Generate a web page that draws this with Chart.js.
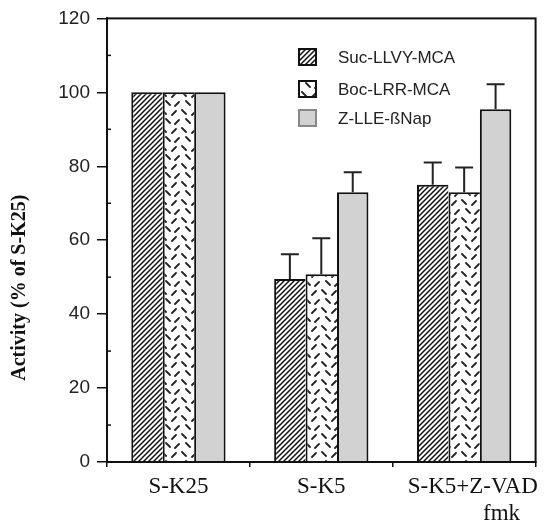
<!DOCTYPE html>
<html>
<head>
<meta charset="utf-8">
<script src="https://cdn.jsdelivr.net/npm/chart.js@4"></script>
<style>
  body { margin: 0; background: #fff; }
</style>
</head>
<body>
<canvas id="chart" width="545" height="527"></canvas>
<script>
const categories = [["S-K25", "     "], ["S-K5", "   "], ["   S-K5+Z-VAD", "             fmk"]];
const seriesNames = ["Suc-LLVY-MCA", "Boc-LRR-MCA", "Z-LLE-ßNap"];
const sucValues = [100, 49.5, 75];
const sucErrors = [0, 6.7, 6];
const bocValues = [100, 50.8, 73];
const bocErrors = [0, 9.7, 6.7];
const zlleValues = [100, 73, 95.4];
const zlleErrors = [0, 5.4, 6.8];
const yTicks = [0, 20, 40, 60, 80, 100, 120];

function hatchPattern() {
  const c = document.createElement("canvas");
  c.width = 5; c.height = 5;
  const g = c.getContext("2d");
  g.fillStyle = "#fff";
  g.fillRect(0, 0, 5, 5);
  g.strokeStyle = "#111";
  g.lineWidth = 1.5;
  g.beginPath();
  g.moveTo(-1, 6); g.lineTo(6, -1);
  g.moveTo(-1, 1); g.lineTo(1, -1);
  g.moveTo(4, 6); g.lineTo(6, 4);
  g.stroke();
  return g.createPattern(c, "repeat");
}

function dashPattern() {
  const c = document.createElement("canvas");
  c.width = 20; c.height = 18;
  const g = c.getContext("2d");
  g.fillStyle = "#fff";
  g.fillRect(0, 0, 20, 18);
  g.strokeStyle = "#222";
  g.lineWidth = 1.8;
  g.lineCap = "round";
  // short dashes: [cx, cy, dir] with dir 1 = "\" and -1 = "/"
  const dashes = [[4, 4, 1], [14, 5, -1], [8, 13, 1], [17, 14, -1]];
  g.beginPath();
  dashes.forEach(([x, y, d]) => {
    g.moveTo(x - 2, y - 2 * d);
    g.lineTo(x + 2, y + 2 * d);
  });
  g.stroke();
  return g.createPattern(c, "repeat");
}

const fills = [hatchPattern(), dashPattern(), "#d2d2d2"];
const errors = [sucErrors, bocErrors, zlleErrors];

const extras = {
  id: "extras",
  afterDatasetsDraw(chart) {
    const ctx = chart.ctx;
    const a = chart.chartArea;
    const y = chart.scales.y;
    ctx.save();
    // error bars
    ctx.strokeStyle = "#222";
    ctx.lineWidth = 2;
    chart.data.datasets.forEach((ds, i) => {
      chart.getDatasetMeta(i).data.forEach((bar, j) => {
        const e = errors[i][j];
        if (!e) return;
        const top = y.getPixelForValue(ds.data[j] + e);
        ctx.beginPath();
        ctx.moveTo(bar.x, bar.y);
        ctx.lineTo(bar.x, top);
        ctx.moveTo(bar.x - 9, top);
        ctx.lineTo(bar.x + 9, top);
        ctx.stroke();
      });
    });
    // frame
    ctx.strokeStyle = "#111";
    ctx.lineWidth = 2;
    ctx.strokeRect(a.left, a.top, a.right - a.left, a.bottom - a.top);
    // minor ticks
    ctx.lineWidth = 1.5;
    for (let v = 10; v < 120; v += 20) {
      const py = y.getPixelForValue(v);
      ctx.beginPath();
      ctx.moveTo(a.left, py);
      ctx.lineTo(a.left + 4, py);
      ctx.stroke();
    }
    // legend
    ctx.font = "17px 'Liberation Sans', Arial, sans-serif";
    ctx.textBaseline = "middle";
    const rows = [57, 89, 118];
    chart.data.datasets.forEach((ds, i) => {
      const cy = rows[i];
      ctx.fillStyle = ds.backgroundColor;
      ctx.fillRect(299, cy - 8, 17, 16);
      ctx.strokeStyle = i === 2 ? "#888" : "#111";
      ctx.lineWidth = 2;
      ctx.strokeRect(299, cy - 8, 17, 16);
      ctx.fillStyle = "#222";
      ctx.fillText(ds.label, 338, cy + 1);
    });
    ctx.restore();
  }
};

const innerBorder = { top: 2, left: 2, right: 0, bottom: 0 };
const lastBorder = { top: 2, left: 2, right: 2, bottom: 0 };

new Chart(document.getElementById("chart"), {
  type: "bar",
  data: {
    labels: categories,
    datasets: [
      { label: seriesNames[0], data: sucValues, backgroundColor: fills[0], borderWidth: innerBorder },
      { label: seriesNames[1], data: bocValues, backgroundColor: fills[1], borderWidth: innerBorder },
      { label: seriesNames[2], data: zlleValues, backgroundColor: fills[2], borderWidth: lastBorder }
    ]
  },
  options: {
    responsive: false,
    animation: false,
    layout: { padding: { top: 18, right: 7, left: 0, bottom: 0 } },
    datasets: {
      bar: {
        borderColor: "#111",
        borderSkipped: false,
        barPercentage: 1,
        categoryPercentage: 0.66
      }
    },
    plugins: {
      legend: { display: false },
      tooltip: { enabled: false }
    },
    scales: {
      x: {
        afterFit(s) { s.height = 65; },
        border: { color: "#111", width: 2 },
        grid: { drawOnChartArea: false, tickLength: 5, color: "#111", lineWidth: 1.5 },
        ticks: {
          color: "#111",
          padding: 6,
          maxRotation: 0,
          autoSkip: false,
          font: { family: "'Liberation Serif', 'Times New Roman', serif", size: 23 }
        }
      },
      y: {
        min: 0,
        max: 120,
        afterFit(s) { s.width = 107; },
        afterBuildTicks(s) { s.ticks = yTicks.map(v => ({ value: v })); },
        border: { color: "#111", width: 2 },
        grid: { drawOnChartArea: false, tickLength: 10, color: "#111", lineWidth: 1.5 },
        ticks: {
          color: "#222",
          padding: 7,
          font: { family: "'Liberation Sans', Arial, sans-serif", size: 19 }
        },
        title: {
          display: true,
          text: "Activity (% of S-K25)" + " ".repeat(19),
          color: "#111",
          padding: { top: 8, bottom: 0 },
          font: { family: "'Liberation Serif', 'Times New Roman', serif", size: 20, weight: "bold" }
        }
      }
    }
  },
  plugins: [extras]
});
</script>
</body>
</html>
